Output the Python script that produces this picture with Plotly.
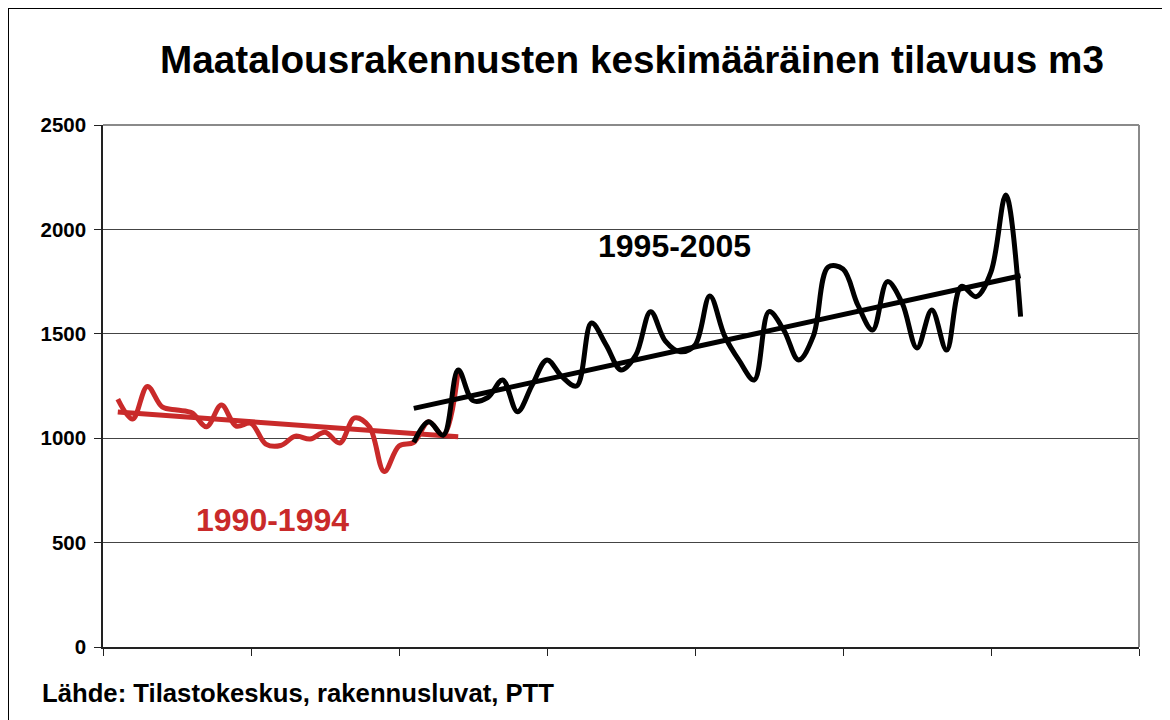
import plotly.graph_objects as go

# quarterly observations, x = running quarter index on the chart
red_x = list(range(1, 25))
red_vals = [1187, 1092, 1248, 1150, 1135, 1122, 1055, 1159, 1058, 1071,
            972, 965, 1010, 996, 1028, 977, 1097, 1055, 840, 963,
            980, 1079, 1015, 1327]

black_x = list(range(21, 63))
black_vals = [980, 1079, 1015, 1327, 1180, 1195, 1279, 1127, 1255, 1375,
              1295, 1250, 1552, 1446, 1327, 1398, 1606, 1465, 1414, 1446,
              1681, 1490, 1370, 1279, 1606, 1518, 1375, 1490, 1820, 1810,
              1638, 1518, 1750, 1647, 1432, 1614, 1422, 1727, 1678, 1797,
              2165, 1582]

# trend line end points
red_trend_x = [1, 24]
red_trend_y = [1125, 1007]
black_trend_x = [21, 62]
black_trend_y = [1143, 1778]

y_ticks = [0, 500, 1000, 1500, 2000, 2500]
x_ticks = [0, 10, 20, 30, 40, 50, 60, 70]

RED = "#C92A2A"
FONT = "Liberation Sans, Arial, sans-serif"

fig = go.Figure()

fig.add_trace(go.Scatter(x=red_x, y=red_vals, mode="lines",
                         line=dict(color=RED, width=5, shape="spline", smoothing=1.0)))
fig.add_trace(go.Scatter(x=red_trend_x, y=red_trend_y, mode="lines",
                         line=dict(color=RED, width=5)))
fig.add_trace(go.Scatter(x=black_x, y=black_vals, mode="lines",
                         line=dict(color="black", width=5, shape="spline", smoothing=1.0)))
fig.add_trace(go.Scatter(x=black_trend_x, y=black_trend_y, mode="lines",
                         line=dict(color="black", width=5)))

fig.add_annotation(x=38.6, y=1920, text="<b>1995-2005</b>", showarrow=False,
                   font=dict(size=32, color="black", family=FONT))
fig.add_annotation(x=11.45, y=608, text="<b>1990-1994</b>", showarrow=False,
                   font=dict(size=32, color=RED, family=FONT))

fig.add_annotation(xref="paper", yref="paper", x=0.511, y=1.1264, yanchor="middle",
                   text="<b>Maatalousrakennusten keskimääräinen tilavuus m3</b>",
                   showarrow=False, font=dict(size=38.7, color="black", family=FONT))
fig.add_annotation(xref="paper", yref="paper", x=-0.0608, y=-0.0881,
                   xanchor="left", yanchor="middle",
                   text="<b>Lähde: Tilastokeskus, rakennusluvat, PTT</b>",
                   showarrow=False, font=dict(size=25.7, color="black", family=FONT))

# plot area top and right edges (grey) and the outer frame
fig.add_shape(type="line", xref="paper", yref="paper", x0=0, x1=1, y0=1, y1=1,
              line=dict(color="#8a8a8a", width=2))
fig.add_shape(type="line", xref="paper", yref="paper", x0=1, x1=1, y0=0, y1=1,
              line=dict(color="#8a8a8a", width=2))
fig.add_shape(type="rect", xref="paper", yref="paper",
              x0=-0.0917, x1=1.06, y0=-0.2, y1=1.2241,
              line=dict(color="black", width=2))

fig.update_xaxes(range=[0, 70], tickvals=x_ticks, showticklabels=False,
                 ticks="outside", ticklen=7, tickcolor="#222", tickwidth=1,
                 showgrid=False, zeroline=False,
                 showline=True, linecolor="#222", linewidth=2)
fig.update_yaxes(range=[0, 2500], tickvals=y_ticks,
                 ticks="outside", ticklen=7, tickcolor="#222", tickwidth=1,
                 ticklabelstandoff=4,
                 tickfont=dict(size=20.5, color="black", family=FONT, weight="bold"),
                 showgrid=True, gridcolor="#444", gridwidth=1, zeroline=False,
                 showline=True, linecolor="#222", linewidth=1.5)

# page body has an 8px margin; size the figure so it fits the window exactly
fig.update_layout(width=1162, height=712,
                  margin=dict(l=95, r=31, t=117, b=73),
                  paper_bgcolor="white", plot_bgcolor="white",
                  showlegend=False)

fig.write_html("out.html")
